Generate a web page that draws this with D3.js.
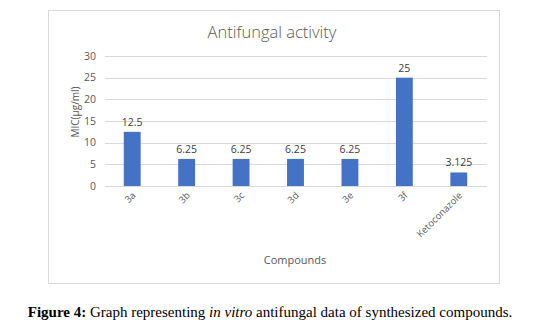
<!DOCTYPE html>
<meta charset="utf-8">
<script src="https://d3js.org/d3.v7.min.js"></script>
<style>
  body { margin: 0; background: #fff; }
</style>
<div id="chart"></div>
<script>
  // chart data
  var compounds = ["3a", "3b", "3c", "3d", "3e", "3f", "Ketoconazole"];
  var mic = [12.5, 6.25, 6.25, 6.25, 6.25, 25, 3.125];
  var yTicks = [0, 5, 10, 15, 20, 25, 30];

  var W = 543, H = 324;
  var svg = d3.select("#chart").append("svg")
      .attr("width", W).attr("height", H);

  // chart frame
  svg.append("rect")
      .attr("x", 48.5).attr("y", 10.5)
      .attr("width", 451).attr("height", 273)
      .attr("fill", "#fff").attr("stroke", "#d9d9d9");

  var x = d3.scaleBand().domain(compounds).range([105, 486]).paddingInner(0.69).paddingOuter(0.345);
  var y = d3.scaleLinear().domain([0, 30]).range([186, 56]);

  // gridlines
  svg.append("g").selectAll("line").data(yTicks).enter().append("line")
      .attr("x1", 105).attr("x2", 487)
      .attr("y1", function (d) { return Math.round(y(d)) + 0.5; })
      .attr("y2", function (d) { return Math.round(y(d)) + 0.5; })
      .attr("stroke", "#d9d9d9");

  // y tick labels
  svg.append("g").selectAll("text").data(yTicks).enter().append("text")
      .attr("x", 96).attr("y", function (d) { return y(d); })
      .attr("dy", "0.35em")
      .attr("text-anchor", "end")
      .style("font-family", "'Open Sans', sans-serif").style("font-size", "10.5px")
      .style("fill", "#595959")
      .text(function (d) { return d; });

  // bars
  svg.append("g").selectAll("rect").data(compounds).enter().append("rect")
      .attr("x", function (d) { return x(d); })
      .attr("y", function (d, i) { return y(mic[i]); })
      .attr("width", x.bandwidth())
      .attr("height", function (d, i) { return y(0) - y(mic[i]); })
      .attr("fill", "#4472c4");

  // value labels
  svg.append("g").selectAll("text").data(compounds).enter().append("text")
      .attr("x", function (d) { return x(d) + x.bandwidth() / 2; })
      .attr("y", function (d, i) { return y(mic[i]) - 6; })
      .attr("text-anchor", "middle")
      .style("font-family", "'Open Sans', sans-serif").style("font-size", "10.5px")
      .style("fill", "#404040")
      .text(function (d, i) { return mic[i]; });

  // x tick labels, rotated
  svg.append("g").selectAll("text").data(compounds).enter().append("text")
      .attr("transform", function (d) {
        return "translate(" + (x(d) + x.bandwidth() / 2 + 4) + ",196) rotate(-45)";
      })
      .attr("text-anchor", "end")
      .style("font-family", "'Open Sans', sans-serif").style("font-size", "9.5px")
      .style("fill", "#595959")
      .text(function (d) { return d; });

  // title
  svg.append("text")
      .attr("x", 272).attr("y", 38)
      .attr("text-anchor", "middle")
      .style("font-family", "'Open Sans', sans-serif").style("font-size", "16.5px")
      .style("font-weight", "300")
      .style("fill", "#595959")
      .text("Antifungal activity");

  // axis titles
  svg.append("text")
      .attr("transform", "translate(79,112) rotate(-90)")
      .attr("text-anchor", "middle")
      .style("font-family", "'Open Sans', sans-serif").style("font-size", "10px")
      .style("fill", "#595959")
      .text("MIC(µg/ml)");

  svg.append("text")
      .attr("x", 295).attr("y", 264)
      .attr("text-anchor", "middle")
      .style("font-family", "'Open Sans', sans-serif").style("font-size", "11px")
      .style("fill", "#595959")
      .text("Compounds");

  // caption
  var cap = svg.append("text")
      .attr("x", 270).attr("y", 317)
      .attr("text-anchor", "middle")
      .style("font-family", "'Liberation Serif', serif").style("font-size", "15px")
      .style("fill", "#000");
  cap.append("tspan").style("font-weight", "bold").text("Figure 4:");
  cap.append("tspan").text(" Graph representing ");
  cap.append("tspan").style("font-style", "italic").text("in vitro");
  cap.append("tspan").text(" antifungal data of synthesized compounds.");
</script>
